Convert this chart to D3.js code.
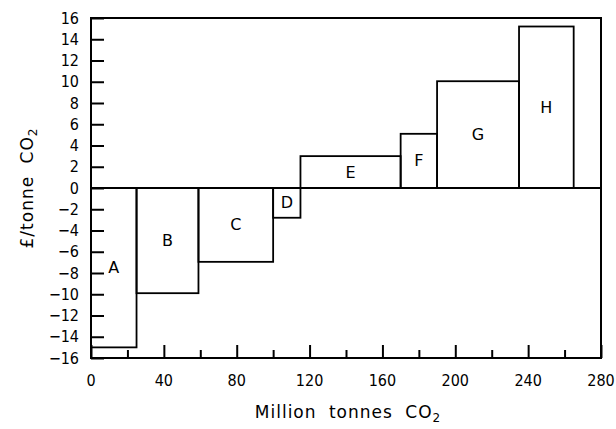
<!DOCTYPE html>
<html><head><meta charset="utf-8">
<script src="https://cdn.jsdelivr.net/npm/d3@7"></script>
<style>body{margin:0;background:#fff}svg{display:block}</style>
</head><body>
<svg id="c" width="616" height="429"></svg>
<script>
const labels = ["A","B","C","D","E","F","G","H"];
const starts = [0, 25, 59, 100, 115, 170, 190, 235];
const ends   = [25, 59, 100, 115, 170, 190, 235, 265];
const costs  = [-15, -9.9, -6.95, -2.8, 3.0, 5.1, 10.05, 15.2];
const xTicks = [0, 40, 80, 120, 160, 200, 240, 280];
const xMinor = [20, 60, 100, 140, 180, 220, 260];
const yTicks = [16,14,12,10,8,6,4,2,0,-2,-4,-6,-8,-10,-12,-14,-16];

const svg = d3.select("#c");
const m = {l:91, r:601, t:18, b:358};
const x = d3.scaleLinear().domain([0,280]).range([m.l, m.r]);
const y = d3.scaleLinear().domain([-16,16]).range([m.b, m.t]);
const fontC = "'DejaVu Sans Condensed', 'DejaVu Sans', sans-serif";
const font = "'DejaVu Sans', sans-serif";

// frame
svg.append("rect").attr("x", m.l).attr("y", m.t).attr("width", m.r-m.l).attr("height", m.b-m.t)
  .attr("fill","none").attr("stroke","#000").attr("stroke-width",2);

// bars
const data = labels.map((l,i)=>({l, s:starts[i], e:ends[i], v:costs[i]}));
svg.selectAll("rect.bar").data(data).enter().append("rect").attr("class","bar")
  .attr("x", d=>x(d.s)).attr("width", d=>x(d.e)-x(d.s))
  .attr("y", d=>y(Math.max(0,d.v))).attr("height", d=>Math.abs(y(d.v)-y(0)))
  .attr("fill","none").attr("stroke","#000").attr("stroke-width",1.8);

// zero line
svg.append("line").attr("x1", x(0)).attr("x2", x(280)).attr("y1", y(0)).attr("y2", y(0))
  .attr("stroke","#000").attr("stroke-width",2);

// bar labels
svg.selectAll("text.bl").data(data).enter().append("text").attr("class","bl")
  .attr("x", d=>x((d.s+d.e)/2)).attr("y", d=>y(d.v/2))
  .attr("text-anchor","middle").attr("dominant-baseline","central")
  .attr("font-family", font).attr("font-size", 16).text(d=>d.l);

// y axis (inward ticks)
const yAxis = d3.axisRight(y).tickValues(yTicks).tickSize(13).tickFormat("");
const gy = svg.append("g").attr("transform", `translate(${m.l},0)`).call(yAxis);
gy.select(".domain").remove();
gy.selectAll("line").attr("stroke-width",2);
svg.selectAll("text.yl").data(yTicks).enter().append("text").attr("class","yl")
  .attr("x", m.l-12).attr("y", d=>y(d)).attr("text-anchor","end").attr("dominant-baseline","central")
  .attr("font-family", fontC).attr("font-size", 16).text(d=> d<0 ? "\u2212"+Math.abs(d) : d);

// x axis (inward ticks)
const xAxis = d3.axisTop(x).tickValues(xTicks).tickSize(13).tickFormat("");
const gx = svg.append("g").attr("transform", `translate(0,${m.b})`).call(xAxis);
gx.select(".domain").remove();
gx.selectAll("line").attr("stroke-width",2);
const xAxisMinor = d3.axisTop(x).tickValues(xMinor).tickSize(8).tickFormat("");
const gx2 = svg.append("g").attr("transform", `translate(0,${m.b})`).call(xAxisMinor);
gx2.select(".domain").remove();
gx2.selectAll("line").attr("stroke-width",2);
svg.selectAll("text.xl").data(xTicks).enter().append("text").attr("class","xl")
  .attr("x", d=>x(d)).attr("y", m.b+28).attr("text-anchor","middle")
  .attr("font-family", fontC).attr("font-size", 16).text(d=>d);

// axis titles
const xt = svg.append("text").attr("x", 348).attr("y", 418).attr("text-anchor","middle")
  .attr("font-family", font).attr("font-size", 17).attr("letter-spacing", 1).attr("word-spacing", 6);
xt.append("tspan").text("Million tonnes CO");
xt.append("tspan").attr("font-size", 12).attr("dy", 4).text("2");

const yt = svg.append("text").attr("transform","translate(33,188) rotate(-90)").attr("text-anchor","middle")
  .attr("font-family", font).attr("font-size", 17).attr("letter-spacing", 1).attr("word-spacing", 6);
yt.append("tspan").text("£/tonne CO");
yt.append("tspan").attr("font-size", 12).attr("dy", 4).text("2");
</script>
</body></html>
